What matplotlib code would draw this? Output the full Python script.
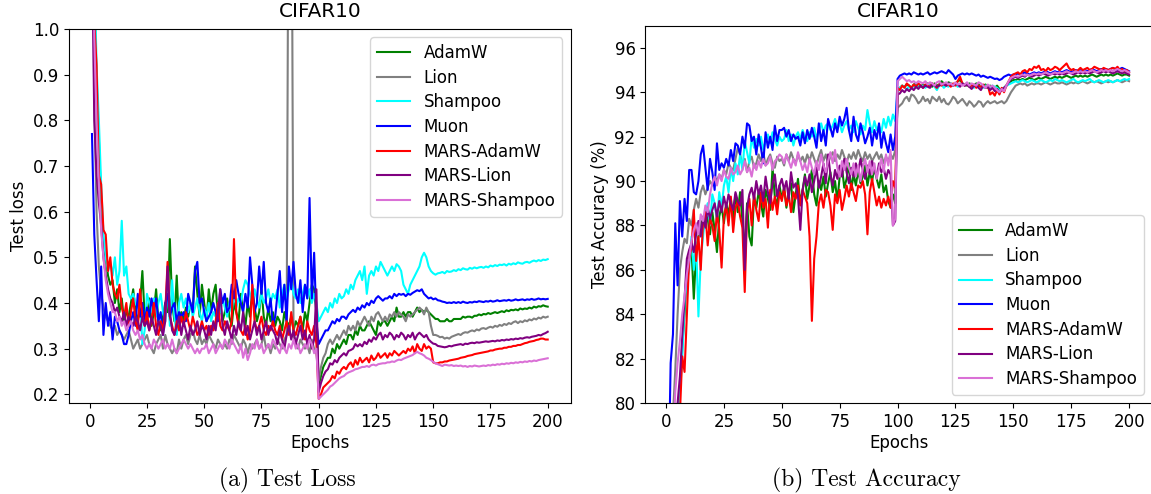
import matplotlib
matplotlib.use("Agg")
import matplotlib.pyplot as plt
import numpy as np

epochs = list(range(1, 201))
labels = ["AdamW", "Lion", "Shampoo", "Muon", "MARS-AdamW", "MARS-Lion", "MARS-Shampoo"]
colors = ["green", "gray", "cyan", "blue", "red", "purple", "orchid"]

# ---------------- Test loss ----------------
loss_adamw = [
    1.45, 1.10, 0.88, 0.76, 0.62, 0.52, 0.50, 0.46, 0.44, 0.45,
    0.40, 0.43, 0.38, 0.41, 0.36, 0.38, 0.37, 0.40, 0.43, 0.38,
    0.36, 0.40, 0.47, 0.37, 0.36, 0.41, 0.35, 0.38, 0.43, 0.36,
    0.34, 0.37, 0.40, 0.38, 0.54, 0.40, 0.36, 0.46, 0.35, 0.38,
    0.36, 0.39, 0.37, 0.40, 0.38, 0.48, 0.42, 0.37, 0.44, 0.40,
    0.36, 0.43, 0.38, 0.42, 0.44, 0.37, 0.40, 0.36, 0.38, 0.41,
    0.37, 0.35, 0.40, 0.38, 0.36, 0.42, 0.38, 0.35, 0.40, 0.37,
    0.43, 0.39, 0.36, 0.38, 0.43, 0.37, 0.35, 0.39, 0.36, 0.38,
    0.35, 0.37, 0.36, 0.34, 0.38, 0.36, 0.35, 0.37, 0.34, 0.36,
    0.35, 0.37, 0.34, 0.38, 0.36, 0.40, 0.44, 0.43, 0.38, 0.22,
    0.24, 0.26, 0.27, 0.28, 0.28, 0.30, 0.29, 0.31, 0.30, 0.31,
    0.32, 0.31, 0.33, 0.33, 0.32, 0.34, 0.33, 0.35, 0.34, 0.34,
    0.35, 0.36, 0.35, 0.34, 0.33, 0.36, 0.35, 0.36, 0.36, 0.35,
    0.36, 0.37, 0.36, 0.39, 0.37, 0.37, 0.38, 0.37, 0.38, 0.38,
    0.37, 0.38, 0.39, 0.38, 0.385, 0.38, 0.385, 0.38, 0.375, 0.37,
    0.365, 0.365, 0.36, 0.36, 0.36, 0.365, 0.36, 0.36, 0.365, 0.365,
    0.365, 0.365, 0.37, 0.368, 0.37, 0.37, 0.368, 0.372, 0.372, 0.375,
    0.373, 0.376, 0.375, 0.378, 0.376, 0.378, 0.38, 0.378, 0.38, 0.382,
    0.38, 0.384, 0.382, 0.385, 0.384, 0.386, 0.384, 0.388, 0.386, 0.388,
    0.387, 0.39, 0.388, 0.392, 0.39, 0.393, 0.392, 0.395, 0.393, 0.392,
]
loss_lion = [
    1.30, 0.85, 0.60, 0.48, 0.42, 0.39, 0.37, 0.36, 0.35, 0.34,
    0.35, 0.33, 0.34, 0.33, 0.32, 0.33, 0.34, 0.32, 0.30, 0.31,
    0.32, 0.30, 0.31, 0.32, 0.33, 0.31, 0.30, 0.29, 0.31, 0.32,
    0.33, 0.30, 0.33, 0.31, 0.30, 0.29, 0.30, 0.29, 0.32, 0.30,
    0.32, 0.33, 0.31, 0.33, 0.34, 0.32, 0.31, 0.33, 0.31, 0.32,
    0.31, 0.33, 0.32, 0.31, 0.30, 0.32, 0.31, 0.30, 0.31, 0.30,
    0.32, 0.31, 0.33, 0.32, 0.31, 0.30, 0.32, 0.31, 0.29, 0.31,
    0.30, 0.31, 0.32, 0.30, 0.31, 0.33, 0.30, 0.31, 0.29, 0.31,
    0.30, 0.32, 0.31, 0.30, 0.32, 0.33, 1.60, 1.60, 0.33, 0.31,
    0.30, 0.32, 0.31, 0.30, 0.31, 0.29, 0.32, 0.30, 0.29, 0.23,
    0.26, 0.28, 0.29, 0.31, 0.32, 0.31, 0.32, 0.33, 0.32, 0.33,
    0.34, 0.33, 0.35, 0.34, 0.35, 0.34, 0.36, 0.35, 0.36, 0.37,
    0.36, 0.35, 0.37, 0.36, 0.375, 0.38, 0.37, 0.36, 0.37, 0.36,
    0.375, 0.37, 0.38, 0.37, 0.38, 0.375, 0.37, 0.36, 0.375, 0.37,
    0.375, 0.38, 0.385, 0.39, 0.385, 0.375, 0.39, 0.38, 0.35, 0.33,
    0.33, 0.328, 0.325, 0.326, 0.322, 0.324, 0.322, 0.326, 0.328, 0.33,
    0.332, 0.33, 0.334, 0.336, 0.335, 0.338, 0.34, 0.338, 0.342, 0.34,
    0.344, 0.345, 0.343, 0.346, 0.348, 0.346, 0.35, 0.348, 0.352, 0.35,
    0.354, 0.352, 0.356, 0.354, 0.358, 0.36, 0.356, 0.36, 0.358, 0.362,
    0.36, 0.364, 0.362, 0.366, 0.364, 0.368, 0.366, 0.37, 0.368, 0.37,
]
loss_shampoo = [
    1.40, 1.15, 0.92, 0.80, 0.66, 0.55, 0.50, 0.47, 0.49, 0.46,
    0.50, 0.44, 0.47, 0.58, 0.46, 0.48, 0.42, 0.41, 0.42, 0.40,
    0.39, 0.41, 0.31, 0.34, 0.42, 0.40, 0.38, 0.41, 0.37, 0.40,
    0.42, 0.38, 0.36, 0.44, 0.35, 0.45, 0.37, 0.33, 0.40, 0.42,
    0.39, 0.41, 0.38, 0.40, 0.37, 0.39, 0.41, 0.38, 0.36, 0.39,
    0.37, 0.40, 0.36, 0.38, 0.37, 0.40, 0.38, 0.41, 0.39, 0.37,
    0.40, 0.38, 0.42, 0.39, 0.41, 0.40, 0.43, 0.45, 0.44, 0.42,
    0.40, 0.43, 0.41, 0.39, 0.42, 0.40, 0.41, 0.43, 0.40, 0.42,
    0.41, 0.43, 0.39, 0.42, 0.44, 0.41, 0.43, 0.45, 0.42, 0.41,
    0.43, 0.40, 0.42, 0.44, 0.41, 0.43, 0.40, 0.42, 0.40, 0.36,
    0.37, 0.38, 0.39, 0.38, 0.40, 0.39, 0.41, 0.40, 0.42, 0.41,
    0.415, 0.43, 0.42, 0.44, 0.43, 0.45, 0.46, 0.47, 0.45, 0.48,
    0.42, 0.46, 0.47, 0.46, 0.48, 0.47, 0.49, 0.48, 0.47, 0.46,
    0.47, 0.48, 0.47, 0.485, 0.48, 0.47, 0.44, 0.43, 0.42, 0.44,
    0.45, 0.46, 0.47, 0.48, 0.50, 0.51, 0.50, 0.48, 0.47, 0.465,
    0.462, 0.465, 0.466, 0.468, 0.465, 0.47, 0.468, 0.469, 0.472, 0.47,
    0.474, 0.472, 0.476, 0.474, 0.473, 0.477, 0.475, 0.478, 0.476, 0.478,
    0.479, 0.477, 0.48, 0.478, 0.482, 0.48, 0.483, 0.481, 0.484, 0.483,
    0.485, 0.482, 0.486, 0.484, 0.487, 0.485, 0.489, 0.487, 0.486, 0.489,
    0.49, 0.488, 0.491, 0.493, 0.491, 0.494, 0.492, 0.495, 0.494, 0.496,
]
loss_muon = [
    0.77, 0.55, 0.45, 0.36, 0.48, 0.33, 0.40, 0.35, 0.38, 0.32,
    0.37, 0.36, 0.34, 0.33, 0.31, 0.31, 0.33, 0.36, 0.38, 0.35,
    0.42, 0.37, 0.40, 0.36, 0.39, 0.37, 0.41, 0.38, 0.41, 0.36,
    0.38, 0.33, 0.40, 0.42, 0.37, 0.39, 0.40, 0.36, 0.38, 0.37,
    0.38, 0.36, 0.42, 0.40, 0.38, 0.47, 0.49, 0.40, 0.41, 0.38,
    0.36, 0.37, 0.38, 0.40, 0.38, 0.36, 0.43, 0.40, 0.42, 0.38,
    0.39, 0.44, 0.41, 0.45, 0.42, 0.40, 0.38, 0.42, 0.39, 0.50,
    0.44, 0.38, 0.40, 0.48, 0.42, 0.49, 0.40, 0.38, 0.41, 0.35,
    0.37, 0.42, 0.47, 0.38, 0.44, 0.36, 0.48, 0.43, 0.49, 0.42,
    0.40, 0.45, 0.38, 0.44, 0.41, 0.63, 0.41, 0.51, 0.36, 0.31,
    0.32, 0.33, 0.34, 0.34, 0.35, 0.36, 0.355, 0.365, 0.36, 0.37,
    0.37, 0.365, 0.375, 0.38, 0.385, 0.38, 0.39, 0.385, 0.395, 0.39,
    0.40, 0.395, 0.405, 0.40, 0.41, 0.415, 0.41, 0.405, 0.41, 0.41,
    0.415, 0.41, 0.42, 0.415, 0.42, 0.418, 0.42, 0.415, 0.42, 0.418,
    0.422, 0.425, 0.428, 0.426, 0.43, 0.42, 0.415, 0.41, 0.412, 0.408,
    0.41, 0.406, 0.405, 0.403, 0.402, 0.40, 0.401, 0.40, 0.402, 0.40,
    0.402, 0.40, 0.403, 0.401, 0.40, 0.402, 0.401, 0.403, 0.402, 0.404,
    0.403, 0.402, 0.404, 0.403, 0.405, 0.403, 0.404, 0.406, 0.404, 0.405,
    0.406, 0.405, 0.407, 0.405, 0.406, 0.408, 0.406, 0.407, 0.408, 0.406,
    0.408, 0.407, 0.409, 0.407, 0.408, 0.41, 0.408, 0.409, 0.408, 0.409,
]
loss_mars_adamw = [
    1.50, 1.02, 0.92, 0.68, 0.66, 0.56, 0.55, 0.47, 0.50, 0.44,
    0.42, 0.41, 0.44, 0.39, 0.37, 0.40, 0.35, 0.38, 0.41, 0.36,
    0.34, 0.43, 0.37, 0.35, 0.38, 0.34, 0.36, 0.40, 0.35, 0.33,
    0.36, 0.34, 0.38, 0.49, 0.37, 0.35, 0.33, 0.36, 0.34, 0.37,
    0.35, 0.38, 0.36, 0.34, 0.37, 0.35, 0.33, 0.34, 0.36, 0.34,
    0.35, 0.33, 0.35, 0.34, 0.36, 0.40, 0.35, 0.34, 0.36, 0.35,
    0.34, 0.36, 0.54, 0.38, 0.35, 0.34, 0.33, 0.35, 0.32, 0.34,
    0.44, 0.36, 0.34, 0.35, 0.37, 0.34, 0.33, 0.35, 0.34, 0.36,
    0.34, 0.33, 0.35, 0.32, 0.34, 0.36, 0.33, 0.38, 0.34, 0.33,
    0.35, 0.37, 0.34, 0.32, 0.36, 0.34, 0.33, 0.35, 0.31, 0.19,
    0.20, 0.215, 0.22, 0.225, 0.23, 0.24, 0.235, 0.25, 0.245, 0.255,
    0.26, 0.255, 0.265, 0.27, 0.26, 0.275, 0.265, 0.28, 0.27, 0.275,
    0.28, 0.27, 0.285, 0.275, 0.28, 0.29, 0.28, 0.285, 0.29, 0.28,
    0.29, 0.285, 0.295, 0.29, 0.285, 0.29, 0.295, 0.29, 0.30, 0.295,
    0.305, 0.29, 0.31, 0.30, 0.295, 0.31, 0.30, 0.305, 0.30, 0.27,
    0.268, 0.268, 0.27, 0.27, 0.272, 0.272, 0.274, 0.275, 0.276, 0.277,
    0.278, 0.28, 0.281, 0.282, 0.284, 0.285, 0.286, 0.288, 0.289, 0.29,
    0.291, 0.292, 0.293, 0.294, 0.296, 0.296, 0.298, 0.299, 0.30, 0.30,
    0.302, 0.302, 0.304, 0.304, 0.306, 0.306, 0.308, 0.308, 0.31, 0.312,
    0.313, 0.315, 0.316, 0.317, 0.319, 0.32, 0.322, 0.322, 0.32, 0.32,
]
loss_mars_lion = [
    1.20, 0.80, 0.68, 0.62, 0.57, 0.50, 0.46, 0.43, 0.41, 0.40,
    0.38, 0.39, 0.37, 0.36, 0.38, 0.35, 0.37, 0.36, 0.35, 0.37,
    0.36, 0.34, 0.37, 0.35, 0.36, 0.34, 0.37, 0.35, 0.33, 0.36,
    0.35, 0.33, 0.36, 0.48, 0.38, 0.34, 0.33, 0.35, 0.37, 0.33,
    0.36, 0.34, 0.32, 0.35, 0.33, 0.34, 0.36, 0.33, 0.35, 0.34,
    0.32, 0.35, 0.33, 0.36, 0.34, 0.38, 0.43, 0.35, 0.33, 0.36,
    0.34, 0.32, 0.35, 0.33, 0.36, 0.34, 0.38, 0.33, 0.35, 0.32,
    0.34, 0.36, 0.33, 0.35, 0.32, 0.34, 0.36, 0.33, 0.35, 0.34,
    0.33, 0.31, 0.34, 0.32, 0.30, 0.33, 0.35, 0.32, 0.34, 0.31,
    0.33, 0.35, 0.32, 0.34, 0.31, 0.33, 0.30, 0.32, 0.43, 0.205,
    0.225, 0.24, 0.25, 0.255, 0.268, 0.265, 0.275, 0.27, 0.28, 0.285,
    0.29, 0.285, 0.295, 0.297, 0.30, 0.31, 0.305, 0.31, 0.305, 0.315,
    0.31, 0.32, 0.315, 0.325, 0.32, 0.33, 0.335, 0.32, 0.33, 0.325,
    0.335, 0.33, 0.32, 0.33, 0.325, 0.335, 0.33, 0.32, 0.33, 0.325,
    0.335, 0.32, 0.33, 0.335, 0.33, 0.325, 0.33, 0.32, 0.315, 0.311,
    0.31, 0.306, 0.305, 0.304, 0.303, 0.304, 0.306, 0.305, 0.307, 0.308,
    0.309, 0.31, 0.308, 0.311, 0.31, 0.312, 0.313, 0.312, 0.314, 0.313,
    0.314, 0.315, 0.316, 0.315, 0.316, 0.317, 0.316, 0.318, 0.317, 0.319,
    0.318, 0.32, 0.319, 0.321, 0.32, 0.322, 0.321, 0.323, 0.322, 0.324,
    0.325, 0.324, 0.326, 0.327, 0.328, 0.33, 0.329, 0.332, 0.334, 0.337,
]
loss_mars_shampoo = [
    1.35, 0.98, 0.80, 0.66, 0.56, 0.50, 0.45, 0.42, 0.40, 0.38,
    0.38, 0.36, 0.37, 0.35, 0.36, 0.34, 0.35, 0.36, 0.34, 0.33,
    0.34, 0.32, 0.33, 0.31, 0.30, 0.31, 0.30, 0.32, 0.31, 0.30,
    0.31, 0.32, 0.30, 0.31, 0.30, 0.32, 0.30, 0.29, 0.30, 0.31,
    0.32, 0.31, 0.30, 0.31, 0.30, 0.29, 0.30, 0.29, 0.30, 0.30,
    0.31, 0.29, 0.30, 0.31, 0.29, 0.30, 0.31, 0.30, 0.32, 0.31,
    0.30, 0.32, 0.31, 0.30, 0.29, 0.31, 0.28, 0.30, 0.275, 0.29,
    0.31, 0.30, 0.32, 0.30, 0.31, 0.29, 0.30, 0.31, 0.30, 0.32,
    0.31, 0.30, 0.29, 0.31, 0.30, 0.29, 0.31, 0.30, 0.32, 0.30,
    0.31, 0.29, 0.30, 0.31, 0.30, 0.32, 0.31, 0.29, 0.30, 0.19,
    0.195, 0.20, 0.205, 0.21, 0.217, 0.22, 0.225, 0.23, 0.235, 0.238,
    0.24, 0.245, 0.248, 0.25, 0.252, 0.255, 0.256, 0.258, 0.26, 0.26,
    0.262, 0.26, 0.264, 0.265, 0.263, 0.266, 0.267, 0.268, 0.268, 0.27,
    0.27, 0.272, 0.271, 0.274, 0.276, 0.275, 0.278, 0.28, 0.282, 0.284,
    0.286, 0.29, 0.293, 0.29, 0.288, 0.285, 0.28, 0.278, 0.275, 0.271,
    0.268, 0.266, 0.264, 0.262, 0.265, 0.264, 0.263, 0.264, 0.262, 0.263,
    0.262, 0.263, 0.261, 0.262, 0.26, 0.262, 0.261, 0.263, 0.262, 0.261,
    0.262, 0.263, 0.262, 0.264, 0.263, 0.265, 0.264, 0.266, 0.265, 0.267,
    0.266, 0.268, 0.267, 0.269, 0.268, 0.27, 0.269, 0.271, 0.27, 0.272,
    0.271, 0.273, 0.272, 0.274, 0.273, 0.275, 0.276, 0.277, 0.278, 0.279,
]

# ---------------- Test accuracy ----------------
acc_adamw = [
    70.0, 73.0, 76.0, 78.0, 79.5, 80.5, 82.5, 84.0, 86.0, 86.5,
    87.0, 84.7, 86.8, 87.5, 88.2, 87.8, 88.5, 88.3, 87.6, 88.6,
    87.8, 86.8, 88.4, 88.9, 88.1, 89.0, 88.5, 89.2, 88.3, 89.4,
    88.6, 89.5, 88.2, 86.8, 89.0, 87.5, 87.1, 89.3, 88.8, 89.5,
    89.0, 88.4, 89.6, 89.2, 88.7, 90.6, 89.3, 88.9, 89.8, 89.2,
    89.7, 88.8, 89.5, 89.9, 88.6, 89.4, 90.1, 89.0, 89.6, 90.3,
    89.2, 89.8, 90.5, 89.4, 88.9, 90.0, 89.6, 90.2, 89.3, 89.9,
    90.4, 89.5, 90.0, 89.1, 90.2, 90.6, 89.7, 90.1, 90.8, 89.6,
    90.3, 89.8, 90.5, 89.9, 90.2, 90.7, 89.8, 90.4, 90.0, 90.6,
    90.1, 89.7, 90.3, 89.5, 89.8, 89.1, 88.8, 89.4, 89.0, 94.1,
    94.2, 94.3, 94.25, 94.35, 94.3, 94.2, 94.35, 94.4, 94.3, 94.25,
    94.35, 94.3, 94.4, 94.35, 94.25, 94.4, 94.3, 94.35, 94.5, 94.4,
    94.35, 94.45, 94.4, 94.3, 94.35, 94.5, 94.55, 94.4, 94.35, 94.3,
    94.4, 94.35, 94.3, 94.4, 94.35, 94.25, 94.3, 94.35, 94.2, 94.3,
    94.25, 94.2, 94.3, 94.15, 94.1, 94.2, 94.3, 94.4, 94.5, 94.55,
    94.55, 94.6, 94.55, 94.6, 94.55, 94.6, 94.65, 94.6, 94.55, 94.6,
    94.65, 94.6, 94.65, 94.7, 94.65, 94.6, 94.65, 94.7, 94.65, 94.7,
    94.65, 94.7, 94.75, 94.7, 94.65, 94.7, 94.75, 94.7, 94.75, 94.7,
    94.75, 94.7, 94.75, 94.8, 94.75, 94.7, 94.75, 94.8, 94.75, 94.8,
    94.75, 94.8, 94.75, 94.8, 94.85, 94.8, 94.75, 94.8, 94.8, 94.75,
]
acc_lion = [
    74.0, 77.0, 79.5, 81.5, 84.0, 86.0, 86.8, 87.4, 87.2, 88.3,
    88.0, 88.7, 89.2, 88.8, 89.5, 89.8, 89.4, 89.7, 90.0, 89.8,
    90.2, 90.0, 90.3, 90.1, 90.5, 90.3, 90.8, 90.6, 90.5, 91.0,
    91.5, 91.2, 90.7, 91.0, 90.4, 90.9, 91.1, 90.6, 90.8, 91.2,
    90.9, 91.3, 90.7, 91.0, 91.2, 90.8, 90.6, 91.1, 90.9, 91.0,
    90.7, 91.2, 90.9, 91.3, 91.0, 90.8, 91.2, 90.9, 91.1, 90.8,
    91.2, 90.9, 91.3, 91.0, 90.7, 91.1, 91.4, 90.9, 91.2, 90.8,
    91.1, 91.3, 90.9, 91.2, 91.0, 91.4, 91.1, 90.8, 91.2, 91.0,
    91.3, 91.0, 91.4, 91.1, 90.9, 91.3, 91.0, 91.2, 90.9, 91.1,
    91.3, 91.0, 91.2, 90.8, 91.1, 90.9, 91.2, 91.0, 91.4, 93.3,
    93.4, 93.5, 93.7, 93.8, 93.6, 93.9, 93.85, 93.7, 93.5, 93.6,
    93.8, 93.6, 93.7, 93.5, 93.8, 93.7, 93.6, 93.8, 93.55, 93.7,
    93.5, 93.45, 93.6, 93.8, 93.7, 93.5, 93.6, 93.7, 93.55, 93.4,
    93.6, 93.5, 93.35, 93.45, 93.6, 93.55, 93.35, 93.5, 93.6, 93.5,
    93.55, 93.6, 93.5, 93.55, 93.6, 93.5, 93.6, 93.8, 94.0, 94.15,
    94.3, 94.35, 94.4, 94.35, 94.4, 94.3, 94.35, 94.4, 94.35, 94.4,
    94.4, 94.35, 94.4, 94.45, 94.4, 94.35, 94.4, 94.45, 94.4, 94.4,
    94.45, 94.4, 94.35, 94.4, 94.45, 94.4, 94.45, 94.4, 94.45, 94.5,
    94.45, 94.4, 94.45, 94.5, 94.45, 94.5, 94.45, 94.4, 94.45, 94.5,
    94.45, 94.5, 94.45, 94.5, 94.55, 94.5, 94.45, 94.5, 94.55, 94.5,
]
acc_shampoo = [
    72.0, 75.0, 77.0, 78.5, 79.0, 80.5, 82.0, 84.5, 85.5, 86.0,
    87.5, 86.0, 87.2, 83.9, 86.5, 87.5, 88.5, 89.0, 88.0, 89.4,
    89.0, 88.2, 89.5, 88.8, 89.8, 90.2, 89.5, 90.6, 90.0, 90.8,
    90.3, 91.2, 90.5, 91.8, 91.3, 90.8, 92.0, 91.5, 91.9, 91.6,
    92.0, 91.4, 91.8, 92.1, 91.7, 92.2, 91.9, 91.6, 92.0, 91.8,
    91.9, 92.3, 91.8, 92.1, 91.6, 92.0, 92.2, 91.9, 92.3, 92.0,
    91.8, 92.2, 92.0, 92.4, 91.9, 92.3, 92.6, 92.2, 92.5, 92.6,
    92.3, 92.5, 92.8, 92.4, 92.6, 92.2, 92.5, 92.7, 92.3, 92.5,
    92.2, 92.7, 92.4, 92.1, 92.5, 92.3, 93.2, 92.6, 92.2, 92.7,
    92.3, 92.5, 92.2, 92.8, 92.4, 92.9, 92.5, 93.0, 92.7, 94.0,
    94.2, 94.3, 94.25, 94.1, 94.3, 94.15, 94.3, 94.2, 94.35, 94.25,
    94.3, 94.2, 94.35, 94.3, 94.4, 94.25, 94.1, 94.3, 94.35, 94.2,
    94.3, 94.25, 94.4, 94.3, 94.35, 94.25, 94.3, 94.4, 94.3, 94.35,
    94.25, 94.3, 94.2, 94.35, 94.25, 94.3, 94.2, 94.3, 94.25, 94.2,
    94.3, 94.25, 94.2, 94.1, 94.15, 94.2, 94.3, 94.35, 94.4, 94.45,
    94.5, 94.45, 94.5, 94.55, 94.5, 94.45, 94.5, 94.55, 94.5, 94.45,
    94.5, 94.55, 94.5, 94.45, 94.5, 94.55, 94.5, 94.6, 94.55, 94.5,
    94.55, 94.5, 94.45, 94.5, 94.55, 94.6, 94.5, 94.45, 94.5, 94.55,
    94.5, 94.55, 94.6, 94.5, 94.45, 94.5, 94.55, 94.5, 94.45, 94.5,
    94.55, 94.5, 94.45, 94.5, 94.55, 94.5, 94.55, 94.6, 94.55, 94.6,
]
acc_muon = [
    76.0, 81.8, 83.1, 88.1, 85.3, 89.1, 87.5, 89.2, 88.2, 90.5,
    90.5, 89.5, 89.4, 90.0, 91.2, 91.6, 90.6, 89.6, 91.0, 90.4,
    89.6, 91.7, 90.5, 90.8, 90.6, 91.0, 90.7, 91.4, 90.9, 91.7,
    91.6, 91.2, 92.0, 91.5, 92.6, 92.5, 91.8, 92.0, 91.2, 92.1,
    91.5, 90.8, 92.2, 91.5, 92.0, 91.4, 92.5, 91.8, 92.3, 92.3,
    92.4, 92.0, 92.3, 91.8, 92.1, 91.9, 92.0, 91.6, 92.2, 91.7,
    92.3, 91.9, 92.4, 92.0, 91.5, 92.6, 91.8, 92.3, 91.6, 92.8,
    92.4, 92.0, 92.6, 92.2, 92.9, 92.5, 92.8, 93.3, 92.3, 91.8,
    92.9, 92.1, 91.8, 92.6, 92.2, 91.7, 92.0, 92.4, 91.6, 92.3,
    91.9, 92.6, 91.5, 92.2, 91.7, 91.3, 92.1, 91.4, 92.0, 94.6,
    94.75, 94.8, 94.85, 94.8, 94.85, 94.8, 94.9, 94.85, 94.8, 94.85,
    94.8, 94.85, 94.9, 94.8, 94.85, 94.9, 94.85, 94.9, 94.95, 94.9,
    94.85, 95.0, 94.9, 94.8, 94.6, 94.75, 94.8, 94.85, 94.8, 94.85,
    94.8, 94.85, 94.8, 94.75, 94.8, 94.7, 94.75, 94.7, 94.65, 94.7,
    94.65, 94.6, 94.62, 94.55, 94.6, 94.7, 94.75, 94.8, 94.75, 94.8,
    94.8, 94.85, 94.8, 94.85, 94.9, 94.85, 94.8, 94.85, 94.9, 94.85,
    94.9, 94.85, 94.9, 94.95, 94.9, 94.85, 94.9, 94.95, 94.9, 94.95,
    94.9, 94.95, 95.0, 94.95, 94.9, 94.95, 95.0, 94.95, 95.0, 94.95,
    95.0, 94.95, 95.0, 95.05, 95.0, 94.95, 95.0, 95.05, 95.0, 95.05,
    95.0, 95.05, 95.1, 95.05, 95.0, 95.05, 95.1, 95.05, 95.0, 94.95,
]
acc_mars_adamw = [
    68.0, 72.0, 75.0, 77.0, 78.5, 79.5, 82.1, 81.4, 84.0, 86.5,
    87.0, 88.7, 86.4, 87.5, 86.0, 88.2, 88.6, 87.1, 88.3, 88.0,
    87.3, 88.6, 87.8, 86.1, 88.4, 88.9, 88.0, 89.3, 87.7, 88.8,
    89.1, 88.4, 87.9, 85.0, 88.6, 89.2, 88.0, 89.4, 88.7, 88.2,
    89.5, 88.8, 89.2, 87.9, 89.6, 88.7, 89.3, 88.5, 89.5, 89.1,
    89.7, 88.9, 89.4, 88.6, 89.5, 89.2, 89.8, 88.9, 89.6, 89.3,
    89.0, 87.5, 83.7, 86.5, 87.5, 89.0, 89.4, 88.8, 89.6, 89.5,
    88.9, 87.8, 89.4, 89.0, 89.6, 88.7, 89.2, 89.8, 89.3, 89.9,
    89.5, 89.1, 89.8, 89.7, 90.0, 89.4, 87.6, 89.5, 90.1, 89.5,
    88.9, 89.3, 88.8, 89.2, 88.9, 89.3, 88.8, 90.0, 89.7, 94.2,
    94.1, 94.3, 94.2, 94.4, 94.3, 94.2, 94.35, 94.25, 94.4, 94.3,
    94.2, 94.35, 94.3, 94.25, 94.4, 94.3, 94.2, 94.35, 94.3, 94.4,
    94.3, 94.35, 94.25, 94.4, 94.3, 94.5, 94.7, 94.4, 94.3, 94.35,
    94.25, 94.3, 94.35, 94.2, 94.3, 94.25, 94.35, 94.2, 94.3, 93.9,
    94.0, 93.85, 94.1, 93.9, 94.2, 94.0, 94.3, 94.5, 94.7, 94.8,
    94.85, 94.9, 94.8, 94.95, 95.0, 94.9, 95.05, 95.0, 95.15, 95.1,
    95.2, 95.0, 95.05, 94.95, 95.1, 95.0, 95.05, 95.15, 95.1, 95.0,
    95.1, 95.2, 95.3, 95.1, 95.0, 95.05, 94.95, 95.0, 95.1, 95.0,
    95.05, 95.1, 95.0, 95.05, 95.15, 95.1, 95.05, 95.0, 95.1, 95.05,
    95.0, 95.05, 95.1, 95.05, 95.15, 95.0, 95.05, 94.95, 95.0, 94.9,
]
acc_mars_lion = [
    70.0, 74.0, 77.0, 79.5, 80.0, 81.2, 83.0, 84.7, 86.5, 86.9,
    87.2, 86.8, 87.6, 88.2, 87.5, 88.4, 87.9, 88.8, 88.3, 88.7,
    89.0, 88.4, 89.1, 88.6, 89.3, 88.8, 89.4, 89.0, 88.7, 89.5,
    89.1, 88.9, 89.6, 86.0, 88.8, 89.4, 89.7, 89.2, 90.0, 89.4,
    89.8, 89.1, 90.2, 89.5, 89.0, 89.9, 90.3, 89.3, 89.8, 90.1,
    89.6, 90.0, 89.2, 90.4, 89.7, 89.9, 89.3, 87.8, 89.6, 90.2,
    89.8, 90.3, 89.5, 90.0, 90.6, 89.7, 90.2, 90.8, 89.9, 91.2,
    90.3, 89.8, 90.5, 90.1, 90.7, 90.2, 91.0, 90.4, 89.9, 90.6,
    90.2, 90.8, 90.4, 91.0, 90.5, 90.1, 90.7, 90.3, 90.9, 90.5,
    90.2, 90.8, 90.4, 90.6, 90.1, 90.5, 90.3, 88.0, 88.2, 93.9,
    93.95, 94.1, 94.0, 94.15, 94.05, 94.2, 94.1, 94.25, 94.15, 94.3,
    94.2, 94.3, 94.25, 94.2, 94.35, 94.3, 94.25, 94.3, 94.4, 94.35,
    94.3, 94.4, 94.35, 94.3, 94.4, 94.35, 94.25, 94.4, 94.3, 94.35,
    94.25, 94.15, 94.3, 94.35, 94.2, 94.1, 94.3, 94.2, 94.25, 94.1,
    94.2, 94.05, 94.15, 94.0, 94.1, 94.2, 94.3, 94.45, 94.6, 94.65,
    94.7, 94.65, 94.7, 94.75, 94.7, 94.8, 94.75, 94.7, 94.75, 94.8,
    94.75, 94.8, 94.85, 94.8, 94.75, 94.8, 94.85, 94.8, 94.85, 94.8,
    94.85, 94.8, 94.85, 94.9, 94.85, 94.8, 94.85, 94.9, 94.85, 94.9,
    94.85, 94.9, 94.85, 94.9, 94.95, 94.9, 94.85, 94.9, 94.95, 94.9,
    94.95, 94.9, 94.85, 94.9, 94.95, 94.9, 94.85, 94.9, 94.85, 94.8,
]
acc_mars_shampoo = [
    72.0, 75.0, 78.0, 80.5, 81.8, 82.8, 84.0, 84.8, 85.8, 86.5,
    87.3, 87.8, 88.1, 87.6, 88.5, 88.2, 88.9, 88.6, 89.4, 89.9,
    90.2, 89.8, 90.3, 90.0, 90.5, 90.2, 90.1, 90.6, 90.3, 90.4,
    90.7, 90.3, 90.5, 90.9, 90.4, 90.6, 90.2, 90.8, 90.5, 90.9,
    90.6, 91.0, 90.7, 90.8, 91.1, 90.5, 90.9, 91.0, 91.2, 91.1,
    90.8, 91.2, 90.9, 90.6, 91.0, 90.7, 91.3, 90.9, 90.5, 90.8,
    90.4, 91.0, 90.6, 90.3, 90.9, 90.5, 91.2, 90.7, 90.4, 90.9,
    91.3, 90.8, 91.4, 90.6, 90.2, 90.9, 90.5, 91.0, 90.6, 90.3,
    90.8, 90.2, 90.7, 90.0, 90.6, 91.0, 90.4, 90.9, 90.3, 90.8,
    90.1, 90.6, 91.0, 90.4, 91.2, 90.7, 91.4, 88.0, 88.3, 94.5,
    94.6, 94.7, 94.6, 94.5, 94.55, 94.45, 94.5, 94.4, 94.5, 94.45,
    94.4, 94.5, 94.35, 94.45, 94.4, 94.3, 94.45, 94.5, 94.35, 94.4,
    94.45, 94.35, 94.4, 94.3, 94.45, 94.35, 94.4, 94.3, 94.35, 94.45,
    94.3, 94.4, 94.35, 94.3, 94.45, 94.4, 94.3, 94.2, 94.35, 94.25,
    94.3, 94.2, 94.1, 94.0, 94.15, 94.05, 94.3, 94.5, 94.65, 94.7,
    94.75, 94.7, 94.75, 94.8, 94.75, 94.8, 94.75, 94.8, 94.85, 94.8,
    94.85, 94.8, 94.85, 94.9, 94.85, 94.8, 94.85, 94.9, 94.85, 94.9,
    94.85, 94.9, 94.95, 94.9, 94.85, 94.9, 94.95, 94.9, 94.95, 94.9,
    94.95, 94.9, 94.95, 95.0, 94.95, 94.9, 94.95, 95.0, 94.95, 95.0,
    94.95, 95.0, 94.95, 95.0, 95.05, 95.0, 94.95, 95.0, 94.95, 94.9,
]

loss_series = [loss_adamw, loss_lion, loss_shampoo, loss_muon,
               loss_mars_adamw, loss_mars_lion, loss_mars_shampoo]
acc_series = [acc_adamw, acc_lion, acc_shampoo, acc_muon,
              acc_mars_adamw, acc_mars_lion, acc_mars_shampoo]

plt.rcParams['font.family'] = ['DejaVu Sans']
plt.rcParams['font.size'] = 12

W, H = 1151, 494
fig = plt.figure(figsize=(W / 100, H / 100), dpi=100)

ax1 = fig.add_axes([69.2 / W, 91 / H, 501.3 / W, 374 / H])
ax2 = fig.add_axes([645.3 / W, 91 / H, 506.8 / W, 377.3 / H])

for ys, lab, col in zip(loss_series, labels, colors):
    ax1.plot(epochs, ys, color=col, lw=1.5, label=lab)
for ys, lab, col in zip(acc_series, labels, colors):
    ax2.plot(epochs, ys, color=col, lw=1.5, label=lab)

ax1.set_ylim(0.181, 1.0)
ax1.set_yticks([0.2, 0.3, 0.4, 0.5, 0.6, 0.7, 0.8, 0.9, 1.0])
ax1.set_xticks([0, 25, 50, 75, 100, 125, 150, 175, 200])
ax1.set_xlabel("Epochs", labelpad=2)
ax1.set_ylabel("Test loss")
ax1.set_title("CIFAR10", pad=8.5)
ax1.legend(loc="upper right", fontsize=12, labelspacing=0.4)

ax2.set_ylim(80, 97)
ax2.set_yticks([80, 82, 84, 86, 88, 90, 92, 94, 96])
ax2.set_xticks([0, 25, 50, 75, 100, 125, 150, 175, 200])
ax2.set_xlabel("Epochs", labelpad=2)
ax2.set_ylabel("Test Accuracy (%)")
ax2.set_title("CIFAR10")
ax2.legend(loc="lower right", fontsize=12, labelspacing=0.4)

fig.text(287 / W, 1 - 480 / H, "(a) Test Loss", family="cmr10", fontsize=17,
         ha="center", va="center")
fig.text(866 / W, 1 - 480 / H, "(b) Test Accuracy", family="cmr10", fontsize=17,
         ha="center", va="center")

fig.savefig("out.png", dpi=100)
